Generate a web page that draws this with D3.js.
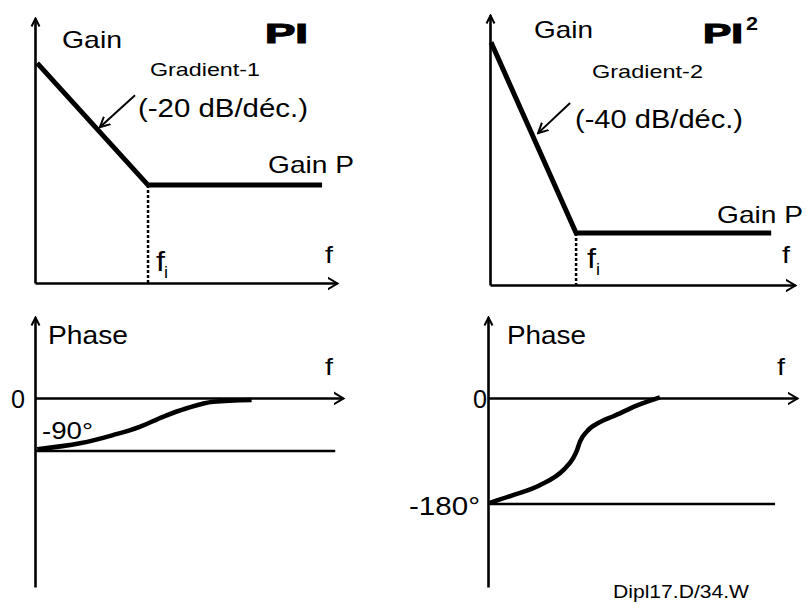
<!DOCTYPE html>
<html><head><meta charset="utf-8">
<script src="https://cdn.jsdelivr.net/npm/d3@7"></script>
<style>
body{margin:0;background:#fff}
svg{display:block}
text{font-family:"Liberation Sans", Arial, sans-serif; fill:#000}
</style>
</head><body><svg id="c" width="807" height="605"></svg>
<script>
// ---------------- data (x in decades relative to fi, gain in dB, phase in degrees) -------------
const piGainDecade   = [-2, 0, 3.14];
const piGainDb       = [40, 0, 0];
const pi2GainDecade  = [-1.5, 0, 3.44];
const pi2GainDb      = [60, 0, 0];
const piPhaseDecade  = [-2.0, -1.23, -0.63, -0.15, 0.27, 0.70, 1.18, 1.87];
const piPhaseDeg     = [-87, -77, -63, -49, -32, -17.5, -6.5, -3.4];
const pi2PhaseDecade = [-1.52, -1.11, -0.64, -0.22, -0.05, 0.02, 0.07, 0.19, 0.42, 0.66, 1.07, 1.48];
const pi2PhaseDeg    = [-178, -165, -148, -122, -102, -88, -74, -57, -41, -31, -13, 1];
const piPhaseRef     = -90;
const pi2PhaseRef    = -180;
const fiDecade       = 0;
const piArrow        = [[-0.235, 29.5], [-0.87, 19]];
const pi2Arrow       = [[-0.106, 40.9], [-0.67, 31.4]];

const svg = d3.select("#c");
const defs = svg.append("defs");
function marker(id, len, half){
  defs.append("marker").attr("id", id).attr("markerUnits","userSpaceOnUse")
    .attr("viewBox", `0 ${-half-2} ${len+2} ${2*half+4}`)
    .attr("refX", len).attr("refY", 0)
    .attr("markerWidth", len+2).attr("markerHeight", 2*half+4)
    .attr("orient","auto")
    .append("path").attr("d", `M0,${-half}L${len},0L0,${half}`)
    .attr("fill","none").attr("stroke","#000").attr("stroke-width",2);
}
marker("axX", 10, 6);
marker("axY", 8, 4);
marker("ann", 10, 5);

function axes(x, y, yAxisAt){
  const gx = svg.append("g").attr("transform", `translate(0,${y(yAxisAt)})`)
    .call(d3.axisBottom(x).tickValues([]).tickSizeOuter(0));
  gx.select(".domain").attr("stroke-width", 2.6).attr("marker-end","url(#axX)");
  const gy = svg.append("g").attr("transform", `translate(${x.range()[0]},0)`)
    .call(d3.axisLeft(y).tickValues([]).tickSizeOuter(0));
  gy.select(".domain").attr("stroke-width", 2.6).attr("marker-end","url(#axY)");
}

function label(t, x, y, size, w, opts={}){
  const el = svg.append("text").attr("x", x).attr("y", y)
    .attr("font-size", size).text(t);
  if (w) el.attr("textLength", w).attr("lengthAdjust","spacingAndGlyphs");
  if (opts.bold) el.attr("font-weight","bold");
  if (opts.stroke) el.attr("stroke","#000").attr("stroke-width",opts.stroke);
  return el;
}

// ---------------- Panel A : PI gain ----------------
const xA = d3.scaleLinear().domain([-2.04, 3.41]).range([35, 337]);
const yA = d3.scaleLinear().domain([-32.1, 54.8]).range([283, 18]);
axes(xA, yA, yA.domain()[0]);
svg.append("line").attr("x1", xA(fiDecade)).attr("x2", xA(fiDecade))
  .attr("y1", yA(0)).attr("y2", yA(yA.domain()[0]))
  .attr("stroke","#000").attr("stroke-width",2.5).attr("stroke-dasharray","3,2");
svg.append("path").datum(d3.zip(piGainDecade, piGainDb))
  .attr("d", d3.line().x(d=>xA(d[0])).y(d=>yA(d[1])))
  .attr("fill","none").attr("stroke","#000").attr("stroke-width",5).attr("stroke-linejoin","miter");
svg.append("line").attr("x1", xA(piArrow[0][0])).attr("y1", yA(piArrow[0][1]))
  .attr("x2", xA(piArrow[1][0])).attr("y2", yA(piArrow[1][1]))
  .attr("stroke","#000").attr("stroke-width",2).attr("marker-end","url(#ann)");
label("Gain", 62, 48, 24, 60);
label("PI", 265, 43, 28, 43, {bold:true, stroke:1.2});
label("Gradient-1", 150, 76, 19, 110);
label("(-20 dB/déc.)", 138, 117, 25, 170);
label("Gain P", 268, 173, 24, 86);
label("f", 325, 263, 24, 8);
label("f", 156, 271, 28, 9);
label("i", 164, 278, 16, 4);

// ---------------- Panel B : PI2 gain ----------------
const xB = d3.scaleLinear().domain([-1.518, 3.86]).range([490, 795]);
const yB = d3.scaleLinear().domain([-16.35, 68.55]).range([285, 15]);
axes(xB, yB, yB.domain()[0]);
svg.append("line").attr("x1", xB(fiDecade)).attr("x2", xB(fiDecade))
  .attr("y1", yB(0)).attr("y2", yB(yB.domain()[0]))
  .attr("stroke","#000").attr("stroke-width",2.5).attr("stroke-dasharray","3,2");
svg.append("path").datum(d3.zip(pi2GainDecade, pi2GainDb))
  .attr("d", d3.line().x(d=>xB(d[0])).y(d=>yB(d[1])))
  .attr("fill","none").attr("stroke","#000").attr("stroke-width",5).attr("stroke-linejoin","miter");
svg.append("line").attr("x1", xB(pi2Arrow[0][0])).attr("y1", yB(pi2Arrow[0][1]))
  .attr("x2", xB(pi2Arrow[1][0])).attr("y2", yB(pi2Arrow[1][1]))
  .attr("stroke","#000").attr("stroke-width",2).attr("marker-end","url(#ann)");
label("Gain", 534, 38, 24, 59);
label("PI", 703, 43, 28, 40, {bold:true, stroke:1.2});
label("2", 746, 30, 18, 12, {bold:true});
label("Gradient-2", 592, 78, 19, 111);
label("(-40 dB/déc.)", 575, 128, 25, 168);
label("Gain P", 717, 223, 24, 86);
label("f", 782, 263, 24, 8);
label("f", 587, 268, 27, 9);
label("i", 596, 275, 16, 4);

// ---------------- Panel C : PI phase ----------------
const xC = d3.scaleLinear().domain([-2.04, 3.52]).range([35, 343]);
const yC = d3.scaleLinear().domain([-321, 137.5]).range([587, 317]);
axes(xC, yC, 0);
svg.append("line").attr("x1", xC(-2.04)).attr("x2", xC(3.38))
  .attr("y1", yC(piPhaseRef)).attr("y2", yC(piPhaseRef))
  .attr("stroke","#000").attr("stroke-width",2.6);
svg.append("path").datum(d3.zip(piPhaseDecade, piPhaseDeg))
  .attr("d", d3.line().x(d=>xC(d[0])).y(d=>yC(d[1])).curve(d3.curveMonotoneX))
  .attr("fill","none").attr("stroke","#000").attr("stroke-width",4.5);
label("Phase", 48, 344, 25, 80);
label("f", 325, 375, 24, 8);
label("0", 11, 408, 25, 14);
label("-90°", 42, 439, 24, 51);

// ---------------- Panel D : PI2 phase ----------------
const xD = d3.scaleLinear().domain([-1.552, 3.897]).range([488, 797]);
const yD = d3.scaleLinear().domain([-320.9, 137.5]).range([587, 317]);
axes(xD, yD, 0);
svg.append("line").attr("x1", xD(-1.552)).attr("x2", xD(3.51))
  .attr("y1", yD(pi2PhaseRef)).attr("y2", yD(pi2PhaseRef))
  .attr("stroke","#000").attr("stroke-width",2.6);
svg.append("path").datum(d3.zip(pi2PhaseDecade, pi2PhaseDeg))
  .attr("d", d3.line().x(d=>xD(d[0])).y(d=>yD(d[1])).curve(d3.curveMonotoneX))
  .attr("fill","none").attr("stroke","#000").attr("stroke-width",4.5);
label("Phase", 507, 344, 25, 79);
label("f", 777, 375, 24, 8);
label("0", 473, 408, 25, 14);
label("-180°", 409, 515, 25, 71);
label("Dipl17.D/34.W", 613, 598, 18, 136);
</script>
</body></html>
